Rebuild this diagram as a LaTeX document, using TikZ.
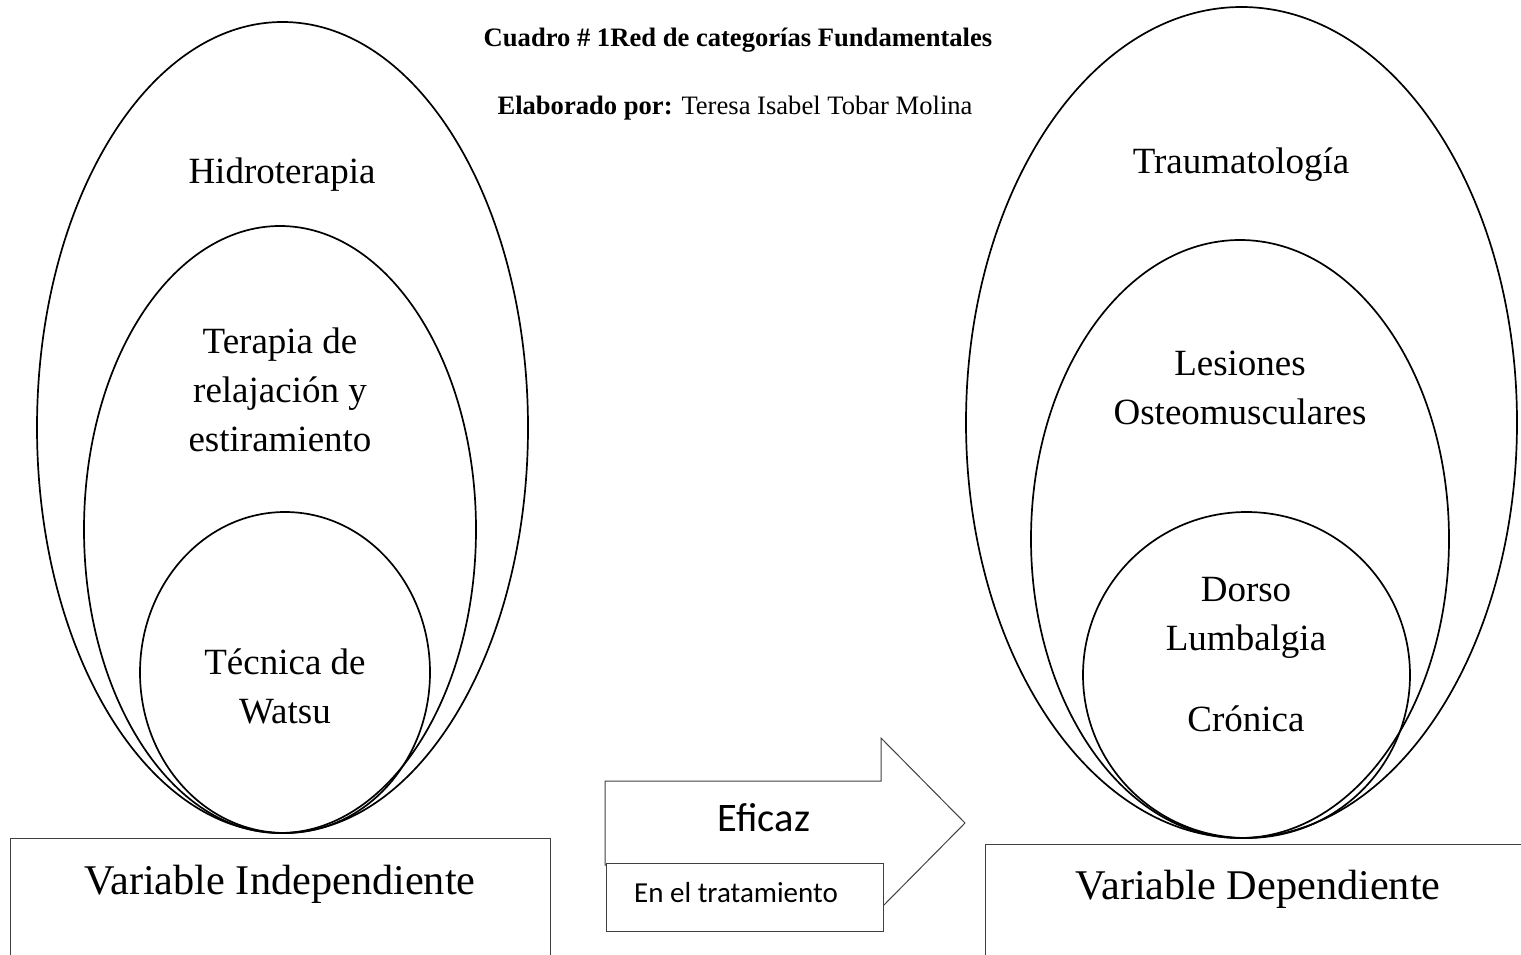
\documentclass[tikz,border=0pt]{standalone}
\usepackage{fontspec}
\setmainfont{Liberation Serif}
\newfontfamily\calibri{Carlito}
\usetikzlibrary{shapes.geometric}

\begin{document}
\begin{tikzpicture}
	[   x=1pt,y=-1pt,
	    oval/.style={draw=black,ellipse,line width=1.7pt,inner sep=0pt},
	    vbox/.style={draw=black!75,line width=1pt,fill=white,inner sep=0pt},
	    txt/.style={font=\fontsize{37}{49}\selectfont,align=center,inner sep=0pt},
	]
	\tikzset{big text/.style={font=\fontsize{42.3}{50}\selectfont,inner sep=0pt}}
	\path[use as bounding box,clip] (0,0) rectangle (1521,955);

	% titulo
	\node[font=\fontsize{26.6}{32}\selectfont\bfseries,inner sep=0pt] (titulo) at (738,40) {Cuadro \# 1Red de categorías Fundamentales};
	\node[font=\fontsize{26.6}{32}\selectfont,inner sep=0pt] (autor) at (735,108) {\textbf{Elaborado por:} Teresa Isabel Tobar Molina};

	% variable independiente
	\node[oval,minimum width=491pt,minimum height=811pt] (hidro) at (282.5,427.5) {};
	\node[oval,minimum width=392pt,minimum height=607pt] (terapia) at (280,529.5) {};
	\node[oval,minimum width=290pt,minimum height=321pt] (watsu) at (285,672.5) {};

	\node[txt] (hidro-t) at (282,175) {Hidroterapia};
	\node[txt] (terapia-t) at (280,390) {Terapia de\\relajación y\\estiramiento};
	\node[txt] (watsu-t) at (285,686) {Técnica de\\Watsu};

	% variable dependiente
	\node[oval,minimum width=551pt,minimum height=831pt] (trauma) at (1241.5,422.5) {};
	\node[oval,minimum width=418pt,minimum height=598pt] (lesion) at (1240,539) {};
	\node[oval,minimum width=327pt,minimum height=326pt] (dorso) at (1246.5,675) {};

	\node[txt] (trauma-t) at (1241,165) {Traumatología};
	\node[txt] (lesion-t) at (1240,388) {Lesiones\\Osteomusculares};
	\node[txt] (dorso-t) at (1246,618) {Dorso\\Lumbalgia};
	\node[txt] (cronica-t) at (1246,719) {Crónica};

	% cajas
	\node[vbox,minimum width=540pt,minimum height=140pt] (vi) at (280,908) {};
	\node[big text] (vi-t) at (280,884) {Variable Independiente};
	\node[vbox,minimum width=555pt,minimum height=136pt] (vd) at (1262.5,912) {};
	\node[big text] (vd-t) at (1258,889) {Variable Dependiente};

	% flecha
	\draw[draw=black!75,line width=1pt,fill=white] (605,781) -- (881,781) -- (881,738) -- (965,823)
		-- (881,908) -- (881,865) -- (605,865) -- cycle;
	\node[font=\calibri\fontsize{40.5}{48}\selectfont,inner sep=0pt] (eficaz) at (764,818) {Eficaz};
	\node[vbox,minimum width=277pt,minimum height=68pt] (trat) at (744.5,897) {};
	\node[font=\calibri\fontsize{29}{34}\selectfont,inner sep=0pt] (trat-t) at (736,893) {En el tratamiento};

\end{tikzpicture}
\end{document}
